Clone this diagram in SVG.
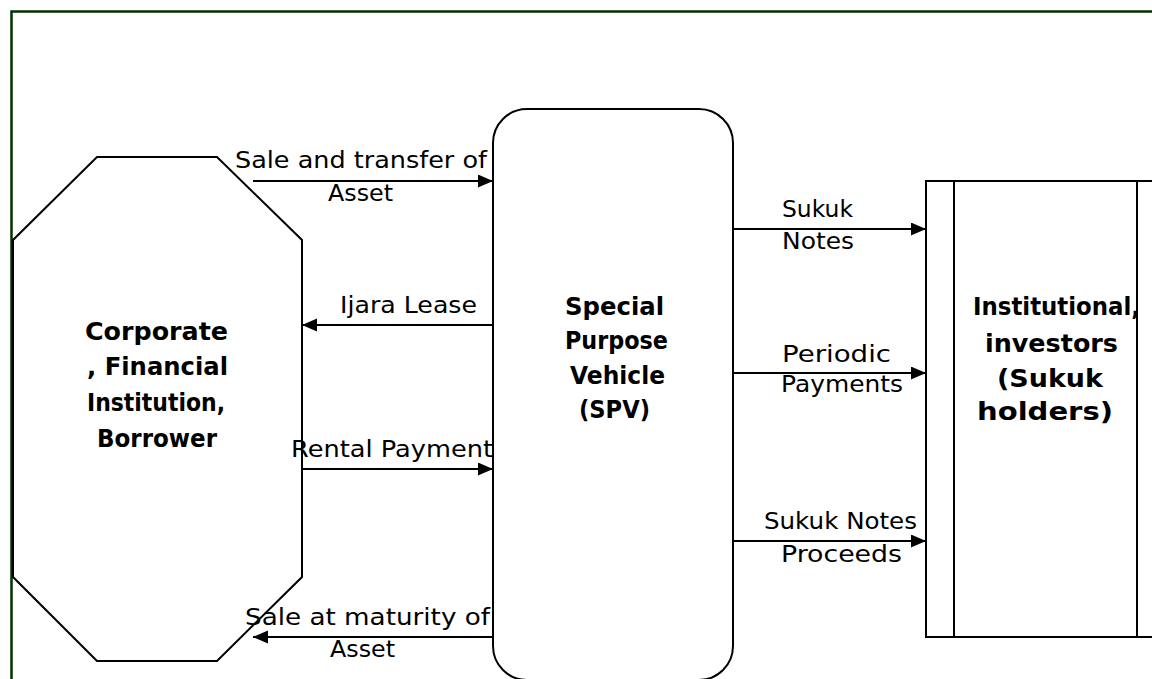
<svg xmlns="http://www.w3.org/2000/svg" width="1152" height="679" viewBox="0 0 1152 679">
<style>
.shape{fill:#fff;stroke:#000;stroke-width:2}
.conn{stroke:#000;stroke-width:2;fill:none}
.lbl{font-family:"DejaVu Sans","Liberation Sans",sans-serif;font-size:22.5px;fill:#000}
.bold{font-family:"DejaVu Sans","Liberation Sans",sans-serif;font-size:24px;font-weight:bold;fill:#000}
</style>
<defs>
<marker id="arr" markerUnits="userSpaceOnUse" markerWidth="16" markerHeight="14" refX="15" refY="6.5" orient="auto">
<path d="M0,0 L15,6.5 L0,13 z" fill="#000"/>
</marker>
</defs>
<rect x="0" y="0" width="1152" height="679" fill="#fff"/>
<rect x="11.5" y="11.5" width="1160" height="700" fill="none" stroke="#003300" stroke-width="2.5"/>

<g id="node-borrower">
<polygon class="shape" points="97,157 217,157 302,240 302,577 217,661 97,661 13,577 13,240"/>
<text class="bold" x="85" y="340" textLength="143" lengthAdjust="spacingAndGlyphs">Corporate</text>
<text class="bold" x="87" y="375" textLength="141" lengthAdjust="spacingAndGlyphs">, Financial</text>
<text class="bold" x="87" y="411" textLength="138" lengthAdjust="spacingAndGlyphs">Institution,</text>
<text class="bold" x="97" y="447" textLength="120" lengthAdjust="spacingAndGlyphs">Borrower</text>
</g>

<g id="node-spv">
<rect class="shape" x="493" y="109" width="240" height="571" rx="34" ry="34"/>
<text class="bold" x="565" y="315" textLength="99" lengthAdjust="spacingAndGlyphs">Special</text>
<text class="bold" x="565" y="349" textLength="103" lengthAdjust="spacingAndGlyphs">Purpose</text>
<text class="bold" x="570" y="384" textLength="95" lengthAdjust="spacingAndGlyphs">Vehicle</text>
<text class="bold" x="579" y="418" textLength="71" lengthAdjust="spacingAndGlyphs">(SPV)</text>
</g>

<g id="node-investors">
<rect class="shape" x="926" y="181" width="240" height="456"/>
<line class="conn" x1="954" y1="181" x2="954" y2="637"/>
<line class="conn" x1="1137" y1="181" x2="1137" y2="637"/>
<text class="bold" x="973" y="315" textLength="167" lengthAdjust="spacingAndGlyphs">Institutional,</text>
<text class="bold" x="985" y="352" textLength="133" lengthAdjust="spacingAndGlyphs">investors</text>
<text class="bold" x="997" y="387" textLength="106" lengthAdjust="spacingAndGlyphs">(Sukuk</text>
<text class="bold" x="977" y="420" textLength="136" lengthAdjust="spacingAndGlyphs">holders)</text>
</g>

<g id="connectors">
<line class="conn" x1="253" y1="181" x2="493" y2="181" marker-end="url(#arr)"/>
<line class="conn" x1="493" y1="325" x2="302" y2="325" marker-end="url(#arr)"/>
<line class="conn" x1="302" y1="469" x2="493" y2="469" marker-end="url(#arr)"/>
<line class="conn" x1="493" y1="637" x2="253" y2="637" marker-end="url(#arr)"/>
<line class="conn" x1="733" y1="229" x2="926" y2="229" marker-end="url(#arr)"/>
<line class="conn" x1="733" y1="373" x2="926" y2="373" marker-end="url(#arr)"/>
<line class="conn" x1="733" y1="541" x2="926" y2="541" marker-end="url(#arr)"/>
</g>

<g id="labels">
<text class="lbl" x="235" y="168" textLength="252" lengthAdjust="spacingAndGlyphs">Sale and transfer of</text>
<text class="lbl" x="328" y="201" textLength="65" lengthAdjust="spacingAndGlyphs">Asset</text>
<text class="lbl" x="340" y="313" textLength="137" lengthAdjust="spacingAndGlyphs">Ijara Lease</text>
<text class="lbl" x="291" y="457" textLength="202" lengthAdjust="spacingAndGlyphs">Rental Payment</text>
<text class="lbl" x="245" y="625" textLength="245" lengthAdjust="spacingAndGlyphs">Sale at maturity of</text>
<text class="lbl" x="330" y="657" textLength="65" lengthAdjust="spacingAndGlyphs">Asset</text>
<text class="lbl" x="782" y="217" textLength="71" lengthAdjust="spacingAndGlyphs">Sukuk</text>
<text class="lbl" x="782" y="249" textLength="72" lengthAdjust="spacingAndGlyphs">Notes</text>
<text class="lbl" x="782" y="362" textLength="109" lengthAdjust="spacingAndGlyphs">Periodic</text>
<text class="lbl" x="781" y="392" textLength="122" lengthAdjust="spacingAndGlyphs">Payments</text>
<text class="lbl" x="764" y="529" textLength="153" lengthAdjust="spacingAndGlyphs">Sukuk Notes</text>
<text class="lbl" x="781" y="562" textLength="121" lengthAdjust="spacingAndGlyphs">Proceeds</text>
</g>
</svg>
